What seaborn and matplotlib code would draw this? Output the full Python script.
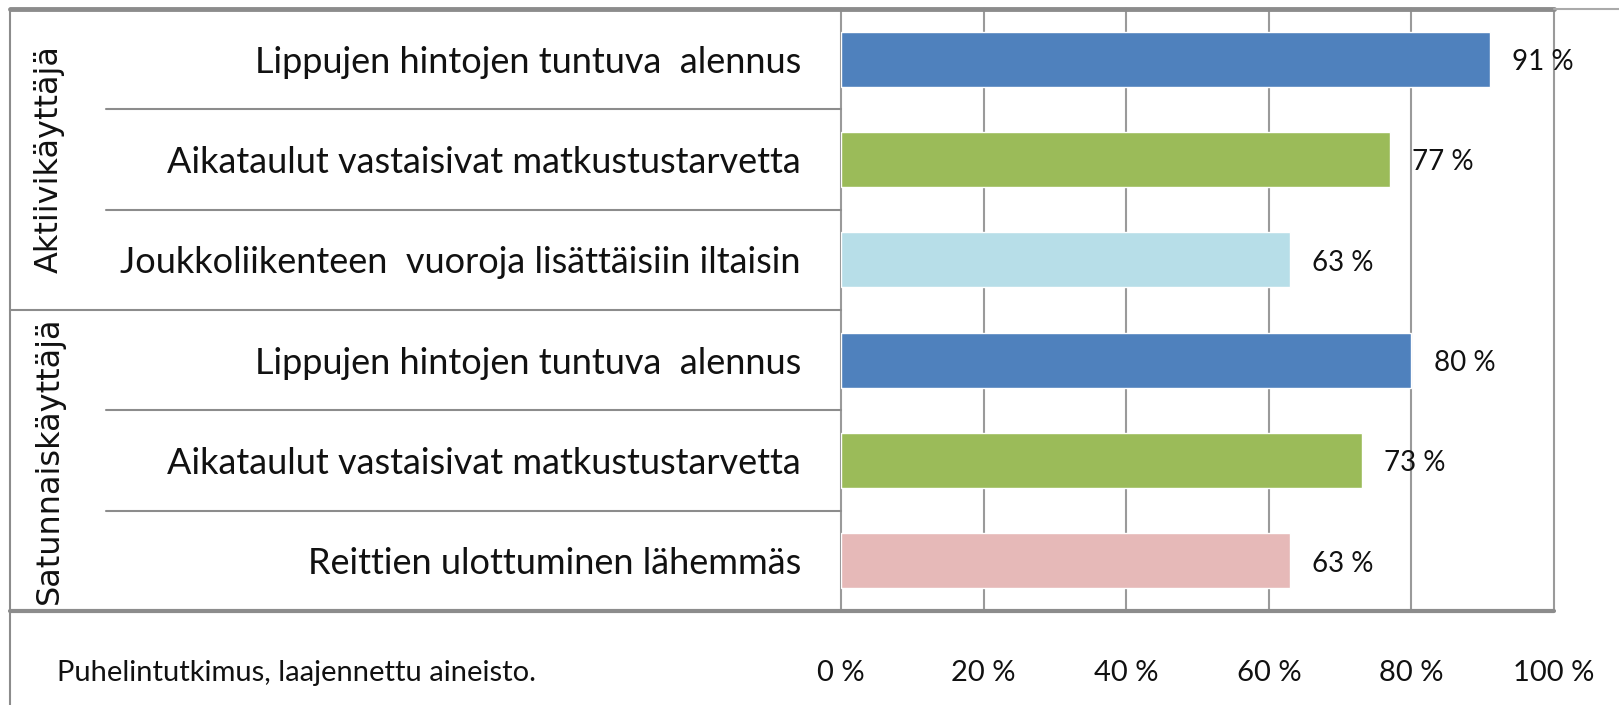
import matplotlib
matplotlib.use("Agg")
import matplotlib.pyplot as plt
import seaborn as sns
import pandas as pd
from matplotlib import font_manager
from matplotlib.lines import Line2D

# chart data
groups = ["Aktiivikäyttäjä", "Satunnaiskäyttäjä"]
labels = [
    "Lippujen hintojen tuntuva  alennus",
    "Aikataulut vastaisivat matkustustarvetta",
    "Joukkoliikenteen  vuoroja lisättäisiin iltaisin",
    "Lippujen hintojen tuntuva  alennus",
    "Aikataulut vastaisivat matkustustarvetta",
    "Reittien ulottuminen lähemmäs",
]
values = [91, 77, 63, 80, 73, 63]
bar_colors = ["#4F81BD", "#9BBB59", "#B7DEE8", "#4F81BD", "#9BBB59", "#E6B9B8"]
ticks = [0, 20, 40, 60, 80, 100]
note = "Puhelintutkimus, laajennettu aineisto."

df = pd.DataFrame({"row": [f"r{i}" for i in range(len(values))], "value": values})

sns.set_theme(style="white")
names = {f.name for f in font_manager.fontManager.ttflist}
main_font = "Lato" if "Lato" in names else "Liberation Sans"
plt.rcParams["font.family"] = [main_font, "DejaVu Sans"]

fig = plt.figure(figsize=(16.19, 7.05), dpi=100)
ax = fig.add_axes([0.5195, 0.1333, 0.4404, 0.8540])

sns.barplot(data=df, x="value", y="row", hue="row", palette=bar_colors,
            orient="h", width=0.55, saturation=1, legend=False, ax=ax)

ax.set_xlim(0, 100)
ax.set_ylim(5.5, -0.5)
ax.set_xticks(ticks)
ax.set_xticklabels([f"{t} %" for t in ticks])
ax.set_yticks(range(len(labels)))
ax.set_yticklabels(labels)
ax.set_xlabel("")
ax.set_ylabel("")
ax.tick_params(axis="y", length=0, pad=29, labelsize=26, labelcolor="#111111")
ax.tick_params(axis="x", direction="out", length=10, width=1.5,
               color="#9a9a9a", pad=25, labelsize=21, labelcolor="#111111")
for s in ax.spines.values():
    s.set_visible(False)
ax.grid(axis="x", color="#9a9a9a", lw=1.5)
ax.grid(axis="y", visible=False)
ax.set_axisbelow(True)
for gl in ax.get_xgridlines():
    gl.set_clip_on(False)

# value labels
for i, v in enumerate(values):
    ax.annotate(f"{v} %", xy=(v, i), xytext=(16, -2), textcoords="offset points",
                va="center", ha="left", fontsize=20, color="#111111")

# table-like lines on the left
trans = ax.get_yaxis_transform()
line_color = "#8c8c8c"
for y in [0.5, 1.5, 3.5, 4.5]:
    ax.plot([-1.031, 0], [y, y], transform=trans, clip_on=False, color=line_color, lw=1.5)
ax.plot([-1.1655, 0], [2.5, 2.5], transform=trans, clip_on=False, color=line_color, lw=1.5)
ax.plot([-1.1655, 1.0], [5.5, 5.5], transform=trans, clip_on=False, color=line_color, lw=3)
ax.plot([-1.1655, 1.0], [-0.5, -0.5], transform=trans, clip_on=False, color=line_color, lw=3.5)
ax.plot([1.0, 1.091], [-0.5, -0.5], transform=trans, clip_on=False, color="#aaaaaa", lw=1.5)
fig.add_artist(Line2D([0.0062, 0.0062], [0, 0.987], color=line_color, lw=1.5))

# group labels
for g, yc in zip(groups, [1, 4]):
    ax.text(-1.110, yc, g, transform=trans, rotation=90, ha="center", va="center",
            fontsize=23, family=["DejaVu Sans"], color="#111111")

fig.text(0.035, 0.046, note, fontsize=21, va="center", ha="left", color="#111111")

fig.savefig("out.png", dpi=100)
